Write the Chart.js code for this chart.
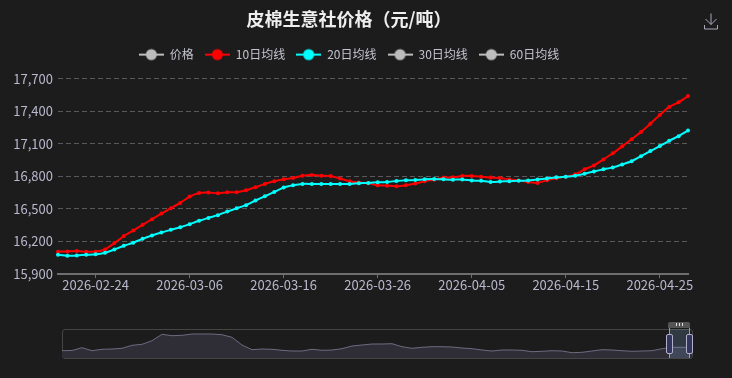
<!DOCTYPE html>
<html>
<head>
<meta charset="utf-8">
<style>
  html, body { margin: 0; padding: 0; background: #1c1c1c; }
  #wrap { position: relative; width: 732px; height: 378px; overflow: hidden; background: #1c1c1c; }
  #mainChart { position: absolute; left: 0; top: 0; }
  #sliderFrame { position: absolute; left: 62px; top: 329px; width: 629px; height: 28px; border: 1px solid #454545; border-radius: 3px; }
  #sliderChart { position: absolute; left: 62px; top: 329px; }
  #sliderSel { position: absolute; left: 669px; top: 329px; width: 20px; height: 29px; background: rgba(135,175,224,0.2); }
  .handleLine { position: absolute; top: 328px; width: 1px; height: 30px; background: #9a9ab4; }
  .handle { position: absolute; top: 334px; width: 5px; height: 18px; background: #33365a; border: 1px solid #b0b0cc; border-radius: 2px; }
  #sliderTop { position: absolute; left: 668px; top: 322px; width: 22px; height: 6px; background: #555; border-radius: 2px 2px 0 0; }
  #sliderTop span { position: absolute; top: 1px; width: 1px; height: 3px; background: #ddd; }
  #saveIcon { position: absolute; left: 703px; top: 13px; }
</style>
</head>
<body>
<div id="wrap">
  <canvas id="mainChart" width="732" height="300"></canvas>
  <div id="sliderFrame"></div>
  <canvas id="sliderChart" width="630" height="29"></canvas>
  <div id="sliderSel"></div>
  <div class="handleLine" style="left:669px"></div>
  <div class="handleLine" style="left:689px"></div>
  <div class="handle" style="left:666px"></div>
  <div class="handle" style="left:686px"></div>
  <div id="sliderTop"><span style="left:8px"></span><span style="left:11px"></span><span style="left:14px"></span></div>
  <svg id="saveIcon" width="16" height="17" viewBox="0 0 16 17" fill="none" stroke="#a8a8bf" stroke-width="1">
    <path d="M8 0.5V11.5M2.5 6L8 11.5L13.5 6M1.5 12V16H14.5V12"/>
  </svg>
</div>
<script src="https://cdn.jsdelivr.net/npm/chart.js@4/dist/chart.umd.min.js"></script>
<script>
// DATOS
const titleText = "皮棉生意社价格（元/吨）";
const legendNames = ["价格", "10日均线", "20日均线", "30日均线", "60日均线"];
const legendColors = ["#bdbdbd", "#ff0000", "#00ffff", "#bdbdbd", "#bdbdbd"];

const dates = [
  "2026-02-20", "2026-02-21", "2026-02-22", "2026-02-23", "2026-02-24", "2026-02-25", "2026-02-26", "2026-02-27", "2026-02-28",
  "2026-03-01", "2026-03-02", "2026-03-03", "2026-03-04", "2026-03-05", "2026-03-06", "2026-03-07", "2026-03-08", "2026-03-09",
  "2026-03-10", "2026-03-11", "2026-03-12", "2026-03-13", "2026-03-14", "2026-03-15", "2026-03-16", "2026-03-17", "2026-03-18",
  "2026-03-19", "2026-03-20", "2026-03-21", "2026-03-22", "2026-03-23", "2026-03-24", "2026-03-25", "2026-03-26", "2026-03-27",
  "2026-03-28", "2026-03-29", "2026-03-30", "2026-03-31", "2026-04-01", "2026-04-02", "2026-04-03", "2026-04-04", "2026-04-05",
  "2026-04-06", "2026-04-07", "2026-04-08", "2026-04-09", "2026-04-10", "2026-04-11", "2026-04-12", "2026-04-13", "2026-04-14",
  "2026-04-15", "2026-04-16", "2026-04-17", "2026-04-18", "2026-04-19", "2026-04-20", "2026-04-21", "2026-04-22", "2026-04-23",
  "2026-04-24", "2026-04-25", "2026-04-26", "2026-04-27", "2026-04-28"
];
const dateTicks = ["2026-02-24", "2026-03-06", "2026-03-16", "2026-03-26", "2026-04-05", "2026-04-15", "2026-04-25"];

const ma10 = [
  16105, 16108, 16111, 16105, 16105, 16126, 16185, 16249, 16300, 16353, 16405, 16457, 16506, 16555, 16613, 16647, 16650, 16644, 16653,
  16653, 16671, 16699, 16730, 16754, 16772, 16785, 16806, 16812, 16806, 16803, 16779, 16754, 16742, 16736, 16717, 16714, 16708, 16717, 16733, 16754, 16769, 16788, 16791,
  16803, 16803, 16797, 16788, 16785, 16770, 16761, 16748, 16739, 16764, 16782, 16797, 16818, 16864, 16900, 16955, 17012, 17076, 17142, 17209, 17285, 17364, 17439, 17482, 17539
];
const ma20 = [
  16077, 16068, 16071, 16077, 16081, 16096, 16126, 16160, 16188, 16224, 16255, 16283, 16307, 16331, 16359, 16390, 16417, 16442, 16475,
  16505, 16534, 16577, 16616, 16656, 16696, 16717, 16730, 16730, 16730, 16730, 16730, 16730, 16736, 16739, 16745, 16748, 16757, 16763, 16766, 16772, 16775, 16772, 16769,
  16770, 16761, 16758, 16748, 16752, 16755, 16758, 16761, 16770, 16779, 16791, 16797, 16806, 16824, 16845, 16864, 16882, 16909, 16939, 16985, 17033, 17079, 17127, 17170, 17221
];

// serie completa del deslizador (lectura aproximada)
const sparkValues = [
  16650, 16700, 17400, 16650, 17000, 17075, 17250, 18000, 18250, 19150, 20750, 20400, 20500, 20825, 20825, 20825,
  20650, 20000, 18075, 16900, 17075, 17000, 16750, 16575, 16575, 17000, 16750, 16825, 17150, 17825, 18075, 18325,
  18325, 18400, 17650, 17250, 17500, 17650, 17650, 17575, 17325, 17150, 16825, 16575, 16825, 16825, 16750, 16400,
  16500, 16650, 16575, 16150, 16250, 16575, 16900, 16825, 16650, 16500, 16575, 16650, 17150, 17500, 17500, 17500
];
const sparkLabels = sparkValues.map((v, i) => i);

const tickColor = "#b9b8ce";
const cjkFont = '"Noto Sans CJK SC", "Noto Sans", sans-serif';

// marcador de la leyenda: linea con circulo
function legendMarker(color) {
  const c = document.createElement("canvas");
  c.width = 25;
  c.height = 14;
  const g = c.getContext("2d");
  g.strokeStyle = color;
  g.lineWidth = 2;
  g.beginPath();
  g.moveTo(0, 7);
  g.lineTo(25, 7);
  g.stroke();
  g.fillStyle = color;
  g.beginPath();
  g.arc(12.5, 7, 5.5, 0, Math.PI * 2);
  g.fill();
  return c;
}

// espacio debajo de la leyenda
const legendGap = {
  id: "legendGap",
  beforeInit(chart) {
    const fit = chart.legend.fit;
    chart.legend.fit = function () {
      fit.call(this);
      this.height += 8;
    };
  }
};

// GRAFICO PRINCIPAL
new Chart(document.getElementById("mainChart"), {
  type: "line",
  plugins: [legendGap],
  data: {
    labels: dates,
    datasets: [
      { label: legendNames[0], data: [], hidden: true },
      { label: legendNames[1], data: ma10, borderColor: legendColors[1], backgroundColor: legendColors[1], order: 2 },
      { label: legendNames[2], data: ma20, borderColor: legendColors[2], backgroundColor: legendColors[2], order: 1 },
      { label: legendNames[3], data: [], hidden: true },
      { label: legendNames[4], data: [], hidden: true }
    ]
  },
  options: {
    responsive: false,
    animation: false,
    layout: { padding: { left: 10, right: 44, top: 0, bottom: 0 } },
    elements: {
      line: { borderWidth: 2, tension: 0.15 },
      point: { radius: 2, borderWidth: 0 }
    },
    plugins: {
      tooltip: { enabled: false },
      title: {
        display: true,
        text: titleText,
        color: "#eeeeee",
        font: { family: cjkFont, size: 18, weight: "bold" },
        padding: { top: 8, bottom: 8 }
      },
      legend: {
        display: true,
        labels: {
          usePointStyle: true,
          pointStyleWidth: 25,
          padding: 11,
          font: { family: cjkFont, size: 12 },
          color: "#c4c4d0",
          generateLabels: () => legendNames.map((name, i) => ({
            text: name,
            pointStyle: legendMarker(legendColors[i]),
            fontColor: "#c4c4d0",
            hidden: false,
            datasetIndex: i
          }))
        }
      }
    },
    scales: {
      x: {
        type: "category",
        afterBuildTicks: (scale) => {
          scale.ticks = scale.ticks.filter(t => dateTicks.includes(dates[t.value]));
        },
        afterFit: (scale) => {
          scale.height = 26;
          scale.paddingLeft = 0;
          scale.paddingRight = 0;
        },
        ticks: {
          autoSkip: false,
          maxRotation: 0,
          color: tickColor,
          font: { family: cjkFont, size: 13 },
          padding: -1
        },
        grid: { drawOnChartArea: false, drawTicks: true, tickLength: 4, tickColor: "#6e7079" },
        border: { color: "#6e6e6e", width: 2 }
      },
      y: {
        min: 15900,
        max: 17700,
        afterFit: (scale) => { scale.width = 48; },
        ticks: {
          stepSize: 300,
          color: tickColor,
          font: { family: cjkFont, size: 13 },
          padding: 5,
          callback: (v) => v.toLocaleString("en-US")
        },
        grid: { color: "#595959", drawTicks: false },
        border: { display: false, dash: [5, 3] }
      }
    }
  }
});

// DESLIZADOR
new Chart(document.getElementById("sliderChart"), {
  type: "line",
  data: {
    labels: sparkLabels,
    datasets: [{
      data: sparkValues,
      borderColor: "#6c6b80",
      borderWidth: 1,
      backgroundColor: "#2f2e36",
      fill: "start",
      pointRadius: 0,
      tension: 0
    }]
  },
  options: {
    responsive: false,
    animation: false,
    layout: { padding: 0 },
    plugins: { legend: { display: false }, tooltip: { enabled: false }, title: { display: false } },
    scales: {
      x: { display: false },
      y: { display: false, min: 14825, max: 22075 }
    }
  }
});
</script>
</body>
</html>
